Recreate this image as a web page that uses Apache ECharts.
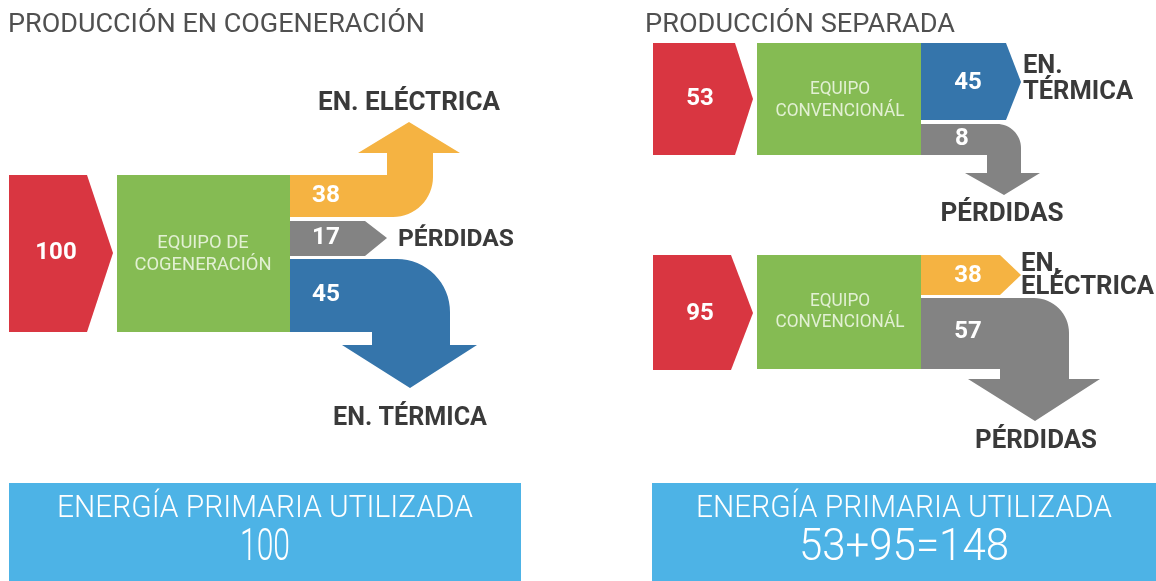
<!DOCTYPE html>
<html>
<head>
<meta charset="utf-8">
<script src="https://cdn.jsdelivr.net/npm/echarts@6/dist/echarts.min.js"></script>
<style>
html, body { margin: 0; padding: 0; background: #fff; }
#main { width: 1156px; height: 581px; }
</style>
</head>
<body>
<div id="main"></div>
<script>
// datos del esquema
var cogenEntrada = 100;
var cogenSalidas = [38, 17, 45];      // eléctrica, pérdidas, térmica
var termEntrada = 53;
var termSalidas = [45, 8];            // térmica, pérdidas
var elecEntrada = 95;
var elecSalidas = [38, 57];           // eléctrica, pérdidas
var titulos = ['PRODUCCIÓN EN COGENERACIÓN', 'PRODUCCIÓN SEPARADA'];
var equipos = ['EQUIPO DE\nCOGENERACIÓN', 'EQUIPO\nCONVENCIONÁL'];
var destinos = ['EN. ELÉCTRICA', 'PÉRDIDAS', 'EN. TÉRMICA', 'EN.\nTÉRMICA', 'EN,\nELÉCTRICA'];
var totalTexto = 'ENERGÍA PRIMARIA UTILIZADA';
var totales = [String(cogenEntrada), termEntrada + '+' + elecEntrada + '=' + (termEntrada + elecEntrada)];

var C = {
  rojo: '#d93641', verde: '#85bb53', naranja: '#f5b342', gris: '#838383',
  azul: '#3575ab', celeste: '#4db3e6', oscuro: '#3a3a3a', titulo: '#505050', claro: '#e2f0d3'
};

// formas (en pixeles del lienzo, el eje va de 0 a 1156 / 0 a 581)
var formas = [
  { tipo: 'flecha', c: C.rojo, g: [9, 87, 113, 175, 332, 253] },
  { tipo: 'rect', c: C.verde, g: [117, 175, 290, 332] },
  { tipo: 'arriba', c: C.naranja, g: { x0: 290, y0: 175, y1: 217, sL: 387, sR: 433, r: 40, hb: 153, h0: 358, h1: 460, tx: 409, ty: 122 } },
  { tipo: 'flecha', c: C.gris, g: [290, 365, 387, 221, 256, 238] },
  { tipo: 'abajo', c: C.azul, g: { x0: 290, y0: 259, y1: 332, sL: 372, sR: 450, r: 53, hb: 345, h0: 342, h1: 477, tx: 410, ty: 388 } },

  { tipo: 'flecha', c: C.rojo, g: [653, 735, 753, 43, 155, 99] },
  { tipo: 'rect', c: C.verde, g: [757, 43, 921, 155] },
  { tipo: 'flecha', c: C.azul, g: [921, 1006, 1021, 43, 120, 82] },
  { tipo: 'abajo', c: C.gris, g: { x0: 921, y0: 124, y1: 155, sL: 987, sR: 1021, r: 24, hb: 173, h0: 965, h1: 1040, tx: 1004, ty: 195 } },

  { tipo: 'flecha', c: C.rojo, g: [653, 731, 753, 255, 370, 313] },
  { tipo: 'rect', c: C.verde, g: [757, 255, 921, 369] },
  { tipo: 'flecha', c: C.naranja, g: [921, 1000, 1021, 255, 295, 275] },
  { tipo: 'abajo', c: C.gris, g: { x0: 921, y0: 298, y1: 369, sL: 1000, sR: 1069, r: 35, hb: 379, h0: 968, h1: 1100, tx: 1035, ty: 421 } },

  { tipo: 'rect', c: C.celeste, g: [9, 483, 521, 581] },
  { tipo: 'rect', c: C.celeste, g: [652, 483, 1156, 581] }
];

// textos: w = ancho deseado (se estrecha con scaleX)
var textos = [
  { t: titulos[0], x: 8, y: 25, s: 26, f: 'normal', c: C.titulo, a: 'left', w: 417 },
  { t: titulos[1], x: 645, y: 25, s: 26, f: 'normal', c: C.titulo, a: 'left', w: 310 },

  { t: String(cogenEntrada), x: 56, y: 253, s: 24, f: 'bold', c: '#fff', a: 'center' },
  { t: equipos[0], x: 203, y: 254, s: 18, f: 'normal', c: C.claro, a: 'center', w: 137, lh: 22 },
  { t: String(cogenSalidas[0]), x: 312, y: 196, s: 24, f: 'bold', c: '#fff', a: 'left', w: 28 },
  { t: String(cogenSalidas[1]), x: 312, y: 238, s: 24, f: 'bold', c: '#fff', a: 'left', w: 28 },
  { t: String(cogenSalidas[2]), x: 312, y: 295, s: 24, f: 'bold', c: '#fff', a: 'left', w: 28 },
  { t: destinos[0], x: 409, y: 104, s: 25, f: 'bold', c: C.oscuro, a: 'center', w: 182 },
  { t: destinos[1], x: 398, y: 240, s: 24, f: 'bold', c: C.oscuro, a: 'left', w: 116 },
  { t: destinos[2], x: 410, y: 419, s: 25, f: 'bold', c: C.oscuro, a: 'center', w: 154 },

  { t: String(termEntrada), x: 700, y: 99, s: 24, f: 'bold', c: '#fff', a: 'center' },
  { t: equipos[1], x: 840, y: 100, s: 18, f: 'normal', c: C.claro, a: 'center', w: 129, lh: 22 },
  { t: String(termSalidas[0]), x: 968, y: 83, s: 24, f: 'bold', c: '#fff', a: 'center' },
  { t: String(termSalidas[1]), x: 962, y: 139, s: 24, f: 'bold', c: '#fff', a: 'center' },
  { t: destinos[3], x: 1023, y: 80, s: 25, f: 'bold', c: C.oscuro, a: 'left', w: 110, lh: 26 },
  { t: destinos[1], x: 1002, y: 215, s: 25, f: 'bold', c: C.oscuro, a: 'center', w: 123 },

  { t: String(elecEntrada), x: 700, y: 314, s: 24, f: 'bold', c: '#fff', a: 'center' },
  { t: equipos[1], x: 840, y: 312, s: 18, f: 'normal', c: C.claro, a: 'center', w: 129, lh: 21 },
  { t: String(elecSalidas[0]), x: 968, y: 276, s: 24, f: 'bold', c: '#fff', a: 'center' },
  { t: String(elecSalidas[1]), x: 968, y: 332, s: 24, f: 'bold', c: '#fff', a: 'center' },
  { t: destinos[4], x: 1021, y: 276, s: 25, f: 'bold', c: C.oscuro, a: 'left', w: 133, lh: 23 },
  { t: destinos[1], x: 1036, y: 442, s: 25, f: 'bold', c: C.oscuro, a: 'center', w: 122 },

  { t: totalTexto, x: 265, y: 509, s: 31, f: '300', c: '#fff', a: 'center', w: 416 },
  { t: totales[0], x: 265, y: 549, s: 44, f: '300', c: '#fff', a: 'center', w: 50 },
  { t: totalTexto, x: 904, y: 509, s: 31, f: '300', c: '#fff', a: 'center', w: 416 },
  { t: totales[1], x: 904, y: 549, s: 44, f: '300', c: '#fff', a: 'center', w: 210 }
];

var FUENTE = 'Roboto';
var ctx = document.createElement('canvas').getContext('2d');
function ancho(t, s, f) {
  ctx.font = f + ' ' + s + 'px ' + FUENTE;
  return Math.max.apply(null, t.split('\n').map(function (l) { return ctx.measureText(l).width; }));
}

function arco(cx, cy, r, a0, a1) {
  var p = [];
  for (var i = 0; i <= 16; i++) {
    var a = (a0 + (a1 - a0) * i / 16) * Math.PI / 180;
    p.push([cx + r * Math.cos(a), cy + r * Math.sin(a)]);
  }
  return p;
}

function puntos(f) {
  var g = f.g;
  if (f.tipo === 'rect') return [[g[0], g[1]], [g[2], g[1]], [g[2], g[3]], [g[0], g[3]]];
  if (f.tipo === 'flecha') return [[g[0], g[3]], [g[1], g[3]], [g[2], g[5]], [g[1], g[4]], [g[0], g[4]]];
  if (f.tipo === 'abajo') {
    return [[g.x0, g.y0]]
      .concat(arco(g.sR - g.r, g.y0 + g.r, g.r, -90, 0))
      .concat([[g.sR, g.hb], [g.h1, g.hb], [g.tx, g.ty], [g.h0, g.hb], [g.sL, g.hb], [g.sL, g.y1], [g.x0, g.y1]]);
  }
  // arriba
  return [[g.x0, g.y0], [g.sL, g.y0], [g.sL, g.hb], [g.h0, g.hb], [g.tx, g.ty], [g.h1, g.hb], [g.sR, g.hb]]
    .concat(arco(g.sR - g.r, g.y1 - g.r, g.r, 0, 90))
    .concat([[g.x0, g.y1]]);
}

var myChart = echarts.init(document.getElementById('main'));

var option = {
  animation: false,
  grid: { left: 0, right: 0, top: 0, bottom: 0 },
  xAxis: { type: 'value', min: 0, max: 1156, show: false },
  yAxis: { type: 'value', min: 0, max: 581, inverse: true, show: false },
  series: [
    {
      type: 'custom',
      silent: true,
      clip: false,
      data: formas.map(function (f, i) { return [i, 0]; }),
      renderItem: function (params, api) {
        var f = formas[params.dataIndex];
        return {
          type: 'polygon',
          shape: { points: puntos(f).map(function (p) { return api.coord(p); }) },
          style: { fill: f.c }
        };
      }
    },
    {
      type: 'custom',
      silent: true,
      clip: false,
      data: textos.map(function (t, i) { return [t.x, t.y]; }),
      renderItem: function (params, api) {
        var t = textos[params.dataIndex];
        var p = api.coord([api.value(0), api.value(1)]);
        var sx = t.w ? t.w / ancho(t.t, t.s, t.f) : 1;
        return {
          type: 'text',
          x: p[0], y: p[1], scaleX: sx,
          style: {
            text: t.t, fill: t.c, fontSize: t.s, fontWeight: t.f, fontFamily: FUENTE,
            align: t.a, verticalAlign: 'middle', lineHeight: t.lh || t.s
          }
        };
      }
    }
  ]
};

myChart.setOption(option);
</script>
</body>
</html>
